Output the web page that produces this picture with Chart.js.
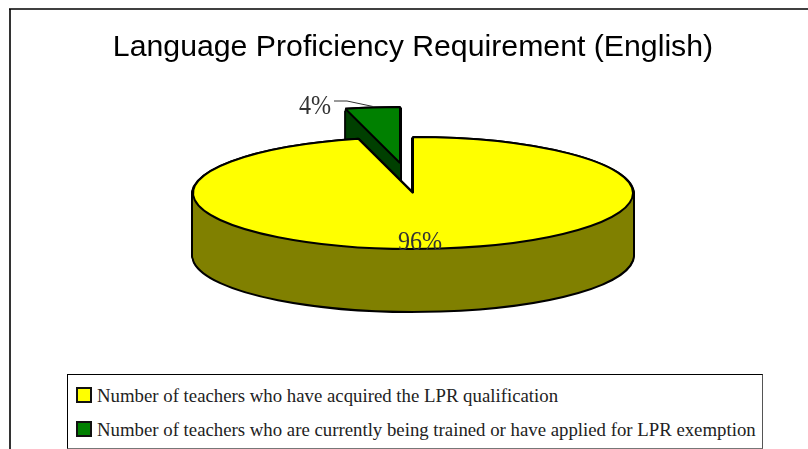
<!DOCTYPE html>
<html>
<head>
<meta charset="utf-8">
<title>Language Proficiency Requirement (English)</title>
<script src="https://cdn.jsdelivr.net/npm/chart.js@4/dist/chart.umd.min.js"></script>
<style>
  html, body { margin: 0; padding: 0; background: #fff; overflow: hidden; }
  #wrap { position: relative; width: 808px; height: 449px; overflow: hidden; }
  #pie { position: absolute; left: 0; top: 0; }
  .legend-box {
    position: absolute; left: 67px; top: 374px; width: 694px; height: 73px;
    border: 1px solid #000; border-bottom-color: #777; border-right-color: #555;
    font-family: "Liberation Serif", serif; font-size: 18.8px; color: #222; background: #fff;
  }
  .legend-row { position: absolute; left: 8px; white-space: nowrap; line-height: 22px; }
  .legend-row i {
    display: inline-block; width: 12px; height: 12px; border: 2px solid #111;
    margin-right: 5px; vertical-align: -1px;
  }
</style>
</head>
<body>
<div id="wrap">
  <canvas id="pie" width="808" height="449"></canvas>
  <div class="legend-box" id="legend"></div>
</div>
<script>
// data
const chartTitle = 'Language Proficiency Requirement (English)';
const categories = [
  'Number of teachers who have acquired the LPR qualification',
  'Number of teachers who are currently being trained or have applied for LPR exemption',
];
const values = [96, 4];
const topColors = ['#ffff00', '#008000'];
const sideColors = ['#808000', '#004000'];

// where the tilted pie sits on the canvas
const CX = 413, CY = 193, RX = 220, RY = 56, DEPTH = 62;
const sliceShift = [[0, 0], [-13, -30]]; // small slice is pulled out

function tilted(ctx, arc, i, drop) {
  ctx.translate(CX + sliceShift[i][0], CY + sliceShift[i][1] + drop);
  ctx.scale(1, RY / RX);
  ctx.translate(-arc.x, -arc.y);
}

// stroke in screen space so the outline stays even after the squash
function withFlatStroke(ctx, fn) {
  const stroke = ctx.stroke;
  ctx.stroke = function () {
    ctx.save();
    ctx.setTransform(1, 0, 0, 1, 0, 0);
    stroke.call(ctx);
    ctx.restore();
  };
  fn();
  delete ctx.stroke;
}

function drawArc(ctx, arc, i, drop, fill, borderWidth) {
  const saved = arc.options;
  arc.options = Object.assign({}, saved, { backgroundColor: fill, borderColor: '#000', borderWidth });
  ctx.save();
  tilted(ctx, arc, i, drop);
  arc.draw(ctx);
  ctx.restore();
  arc.options = saved;
}

// thin tall numerals like the original label font
function drawLabel(ctx, text, x, y) {
  ctx.save();
  ctx.translate(x, y);
  ctx.scale(0.86, 1);
  ctx.fillText(text, 0, 0);
  ctx.restore();
}

const tiltedPie = {
  id: 'tiltedPie',
  beforeDatasetsDraw(chart) {
    const ctx = chart.ctx;
    const arcs = chart.getDatasetMeta(0).data;
    withFlatStroke(ctx, () => {
      // the far slice goes first, the big one covers its foot
      for (let i = arcs.length - 1; i >= 0; i--) {
        for (let k = DEPTH; k >= 1; k--) drawArc(ctx, arcs[i], i, k, sideColors[i], 4);
        for (let k = DEPTH; k >= 1; k--) drawArc(ctx, arcs[i], i, k, sideColors[i], 0);
        drawArc(ctx, arcs[i], i, 0, topColors[i], 2);
      }
    });
    return false;
  },
  afterDraw(chart) {
    const ctx = chart.ctx;
    ctx.save();
    // frame, open on the right
    ctx.strokeStyle = '#333';
    ctx.lineWidth = 2;
    ctx.beginPath();
    ctx.moveTo(10, 449);
    ctx.lineTo(10, 9);
    ctx.stroke();
    ctx.strokeStyle = '#000';
    ctx.lineWidth = 1.5;
    ctx.beginPath();
    ctx.moveTo(9, 9);
    ctx.lineTo(808, 9);
    ctx.stroke();
    // leader line of the small slice
    ctx.strokeStyle = '#333';
    ctx.lineWidth = 1;
    ctx.beginPath();
    ctx.moveTo(334, 101);
    ctx.lineTo(347, 101);
    ctx.lineTo(373, 106.5);
    ctx.stroke();
    // percent labels
    ctx.fillStyle = '#333';
    ctx.font = '28px "Liberation Serif", serif';
    ctx.textAlign = 'center';
    ctx.textBaseline = 'alphabetic';
    drawLabel(ctx, values[0] + '%', 420, 250);
    drawLabel(ctx, values[1] + '%', 315, 114);
    ctx.restore();
  },
};

new Chart(document.getElementById('pie'), {
  type: 'pie',
  data: {
    labels: categories,
    datasets: [{
      data: values,
      backgroundColor: topColors,
      borderWidth: 2,
      borderColor: '#000',
      radius: RX,
    }],
  },
  options: {
    responsive: false,
    animation: false,
    layout: { padding: { left: 18 } },
    plugins: {
      legend: { display: false },
      tooltip: { enabled: false },
      title: {
        display: true,
        text: chartTitle,
        color: '#000',
        font: { family: '"Liberation Sans", Arial, sans-serif', size: 30.25, weight: 'normal' },
        padding: { top: 30, bottom: 0 },
      },
    },
  },
  plugins: [tiltedPie],
});

// legend built from the same lists
const legend = document.getElementById('legend');
categories.forEach((label, i) => {
  const row = document.createElement('div');
  row.className = 'legend-row';
  row.style.top = (10 + i * 34) + 'px';
  row.innerHTML = `<i style="background:${topColors[i]}"></i>${label}`;
  legend.appendChild(row);
});
</script>
</body>
</html>
